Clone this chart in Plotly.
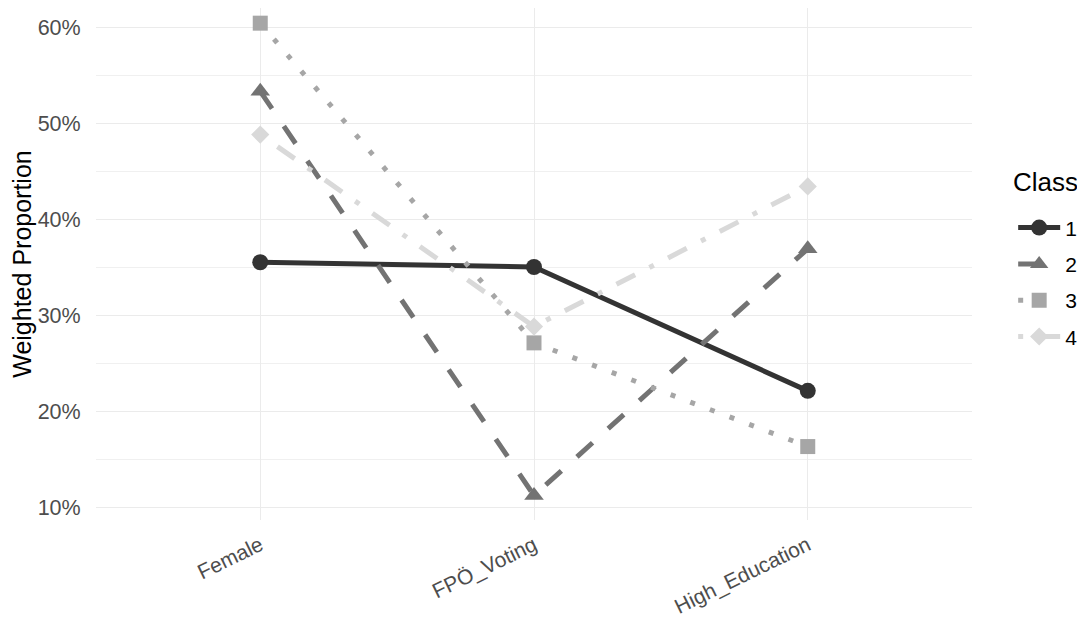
import plotly.graph_objects as go

categories = ["Female", "FPÖ_Voting", "High_Education"]
class_names = ["1", "2", "3", "4"]
class1 = [0.355, 0.350, 0.221]
class2 = [0.533, 0.112, 0.369]
class3 = [0.604, 0.271, 0.163]
class4 = [0.488, 0.288, 0.434]
series = [class1, class2, class3, class4]

colors = ["#333333", "#737373", "#A6A6A6", "#D9D9D9"]
dashes = ["solid", "21px,21px", "5px,16px", "5px,16px,21px,16px"]
symbols = ["circle", "triangle-up", "square", "diamond"]
msizes = [16, 17, 15, 14]

FONT = "Liberation Sans, Arial, sans-serif"

fig = go.Figure()
for name, vals, c, d, s, ms in zip(class_names, series, colors, dashes, symbols, msizes):
    fig.add_trace(go.Scatter(
        x=categories, y=vals, name=name, mode="lines+markers",
        legendgroup=name,
        line=dict(color=c, width=5, dash=d),
        marker=dict(symbol=s, size=ms, color=c, line=dict(width=0)),
    ))

fig.update_layout(
    width=1085, height=620,
    margin=dict(l=88, r=121, t=0, b=108, autoexpand=False),
    paper_bgcolor="white", plot_bgcolor="white",
    font=dict(family=FONT, size=21, color="#000000"),
    showlegend=True,
    legend=dict(
        x=1.047, xanchor="left", y=0.464, yanchor="middle",
        font=dict(size=21, color="#000000"),
        tracegroupgap=6, traceorder="grouped",
        itemwidth=42, bgcolor="rgba(0,0,0,0)",
    ),
    annotations=[dict(
        text="Class", xref="paper", yref="paper", x=1.045, y=0.66,
        xanchor="left", yanchor="middle", showarrow=False,
        font=dict(size=26, color="#000000"),
    )],
)
fig.update_xaxes(
    type="category", categoryorder="array", categoryarray=categories,
    range=[-0.6, 2.6],
    showgrid=True, gridcolor="#EBEBEB", gridwidth=1.2,
    zeroline=False, showline=False,
    tickangle=-26, tickfont=dict(size=21, color="#4D4D4D"),
    ticks="outside", ticklen=4, tickcolor="rgba(0,0,0,0)",
    automargin=False,
)
fig.update_yaxes(
    range=[0.0865, 0.6198],
    tickmode="linear", tick0=0.1, dtick=0.1, tickformat=".0%",
    showgrid=True, gridcolor="#EBEBEB", gridwidth=1.2,
    minor=dict(showgrid=True, gridcolor="#F0F0F0", gridwidth=1, dtick=0.05, tick0=0.05),
    zeroline=False, showline=False,
    tickfont=dict(size=21.5, color="#4D4D4D"),
    ticks="outside", ticklen=10, tickcolor="rgba(0,0,0,0)",
    title=dict(text="Weighted Proportion", font=dict(size=25, color="#000000"), standoff=8),
    automargin=False,
)

fig.write_html("out.html")
